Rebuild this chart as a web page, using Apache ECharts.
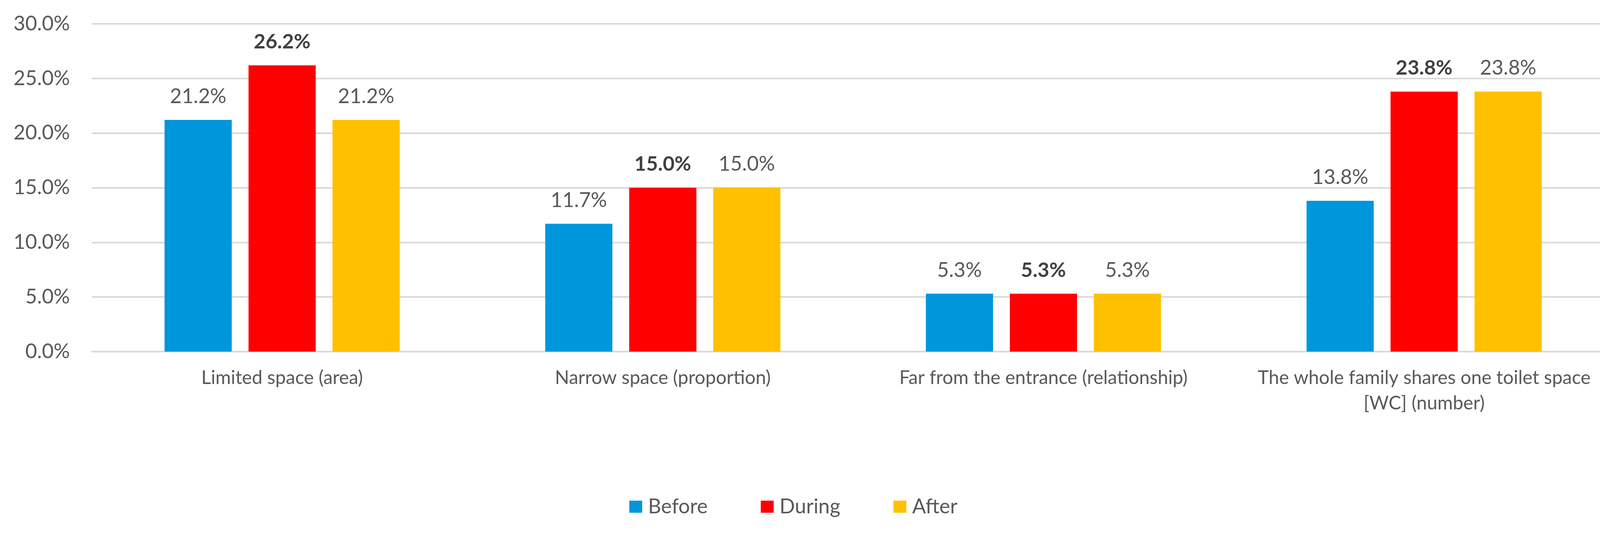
<!DOCTYPE html>
<html>
<head>
<meta charset="utf-8">
<script src="https://cdn.jsdelivr.net/npm/echarts@6/dist/echarts.min.js"></script>
<style>
html,body{margin:0;padding:0;background:#fff;}
#chart{width:4156px;height:1372px;}
</style>
</head>
<body>
<div id="chart"></div>
<script>
const categories = [
  'Limited space (area)',
  'Narrow space (proportion)',
  'Far from the entrance (relationship)',
  'The whole family shares one toilet space [WC] (number)'
];
const seriesNames = ['Before', 'During', 'After'];
const beforeValues = [21.2, 11.7, 5.3, 13.8];
const duringValues = [26.2, 15.0, 5.3, 23.8];
const afterValues = [21.2, 15.0, 5.3, 23.8];
const yTicks = [0, 5, 10, 15, 20, 25, 30];

const colors = ['#0096DB', '#FF0000', '#FFC000'];
const FONT = 'Lato';

const chart = echarts.init(document.getElementById('chart'), null, {renderer: 'canvas'});

function makeSeries(name, data, color, bold) {
  return {
    name: name,
    type: 'bar',
    data: data,
    barWidth: 172,
    barGap: '25%',
    itemStyle: {color: color},
    label: {
      show: true,
      position: 'top',
      distance: 34,
      fontFamily: FONT,
      fontSize: 52,
      fontWeight: bold ? 'bold' : 'normal',
      color: bold ? '#404040' : '#595959',
      formatter: p => p.value.toFixed(1) + '%'
    }
  };
}

chart.setOption({
  animation: false,
  backgroundColor: '#ffffff',
  grid: {left: 235, right: 23, top: 61, bottom: 472, containLabel: false},
  legend: {
    data: seriesNames,
    left: 1606,
    top: 1266,
    itemWidth: 33,
    itemHeight: 31,
    itemGap: 136,
    icon: 'rect',
    textStyle: {fontFamily: FONT, fontSize: 52, color: '#595959', padding: [0, 0, 0, 10]}
  },
  xAxis: {
    type: 'category',
    data: categories,
    axisLine: {show: true, lineStyle: {color: '#D9D9D9', width: 4}},
    axisTick: {show: false},
    axisLabel: {
      interval: 0,
      margin: 35,
      fontFamily: FONT,
      fontSize: 48,
      lineHeight: 65,
      color: '#595959',
      formatter: v => v.replace(' [WC]', '\n[WC]')
    }
  },
  yAxis: {
    type: 'value',
    min: yTicks[0],
    max: yTicks[yTicks.length - 1],
    interval: 5,
    axisLine: {show: false},
    axisTick: {show: false},
    splitLine: {lineStyle: {color: '#D9D9D9', width: 4}},
    axisLabel: {
      margin: 56,
      fontFamily: FONT,
      fontSize: 52,
      color: '#595959',
      formatter: v => v.toFixed(1) + '%'
    }
  },
  series: [
    makeSeries(seriesNames[0], beforeValues, colors[0], false),
    makeSeries(seriesNames[1], duringValues, colors[1], true),
    makeSeries(seriesNames[2], afterValues, colors[2], false)
  ]
});
</script>
</body>
</html>
